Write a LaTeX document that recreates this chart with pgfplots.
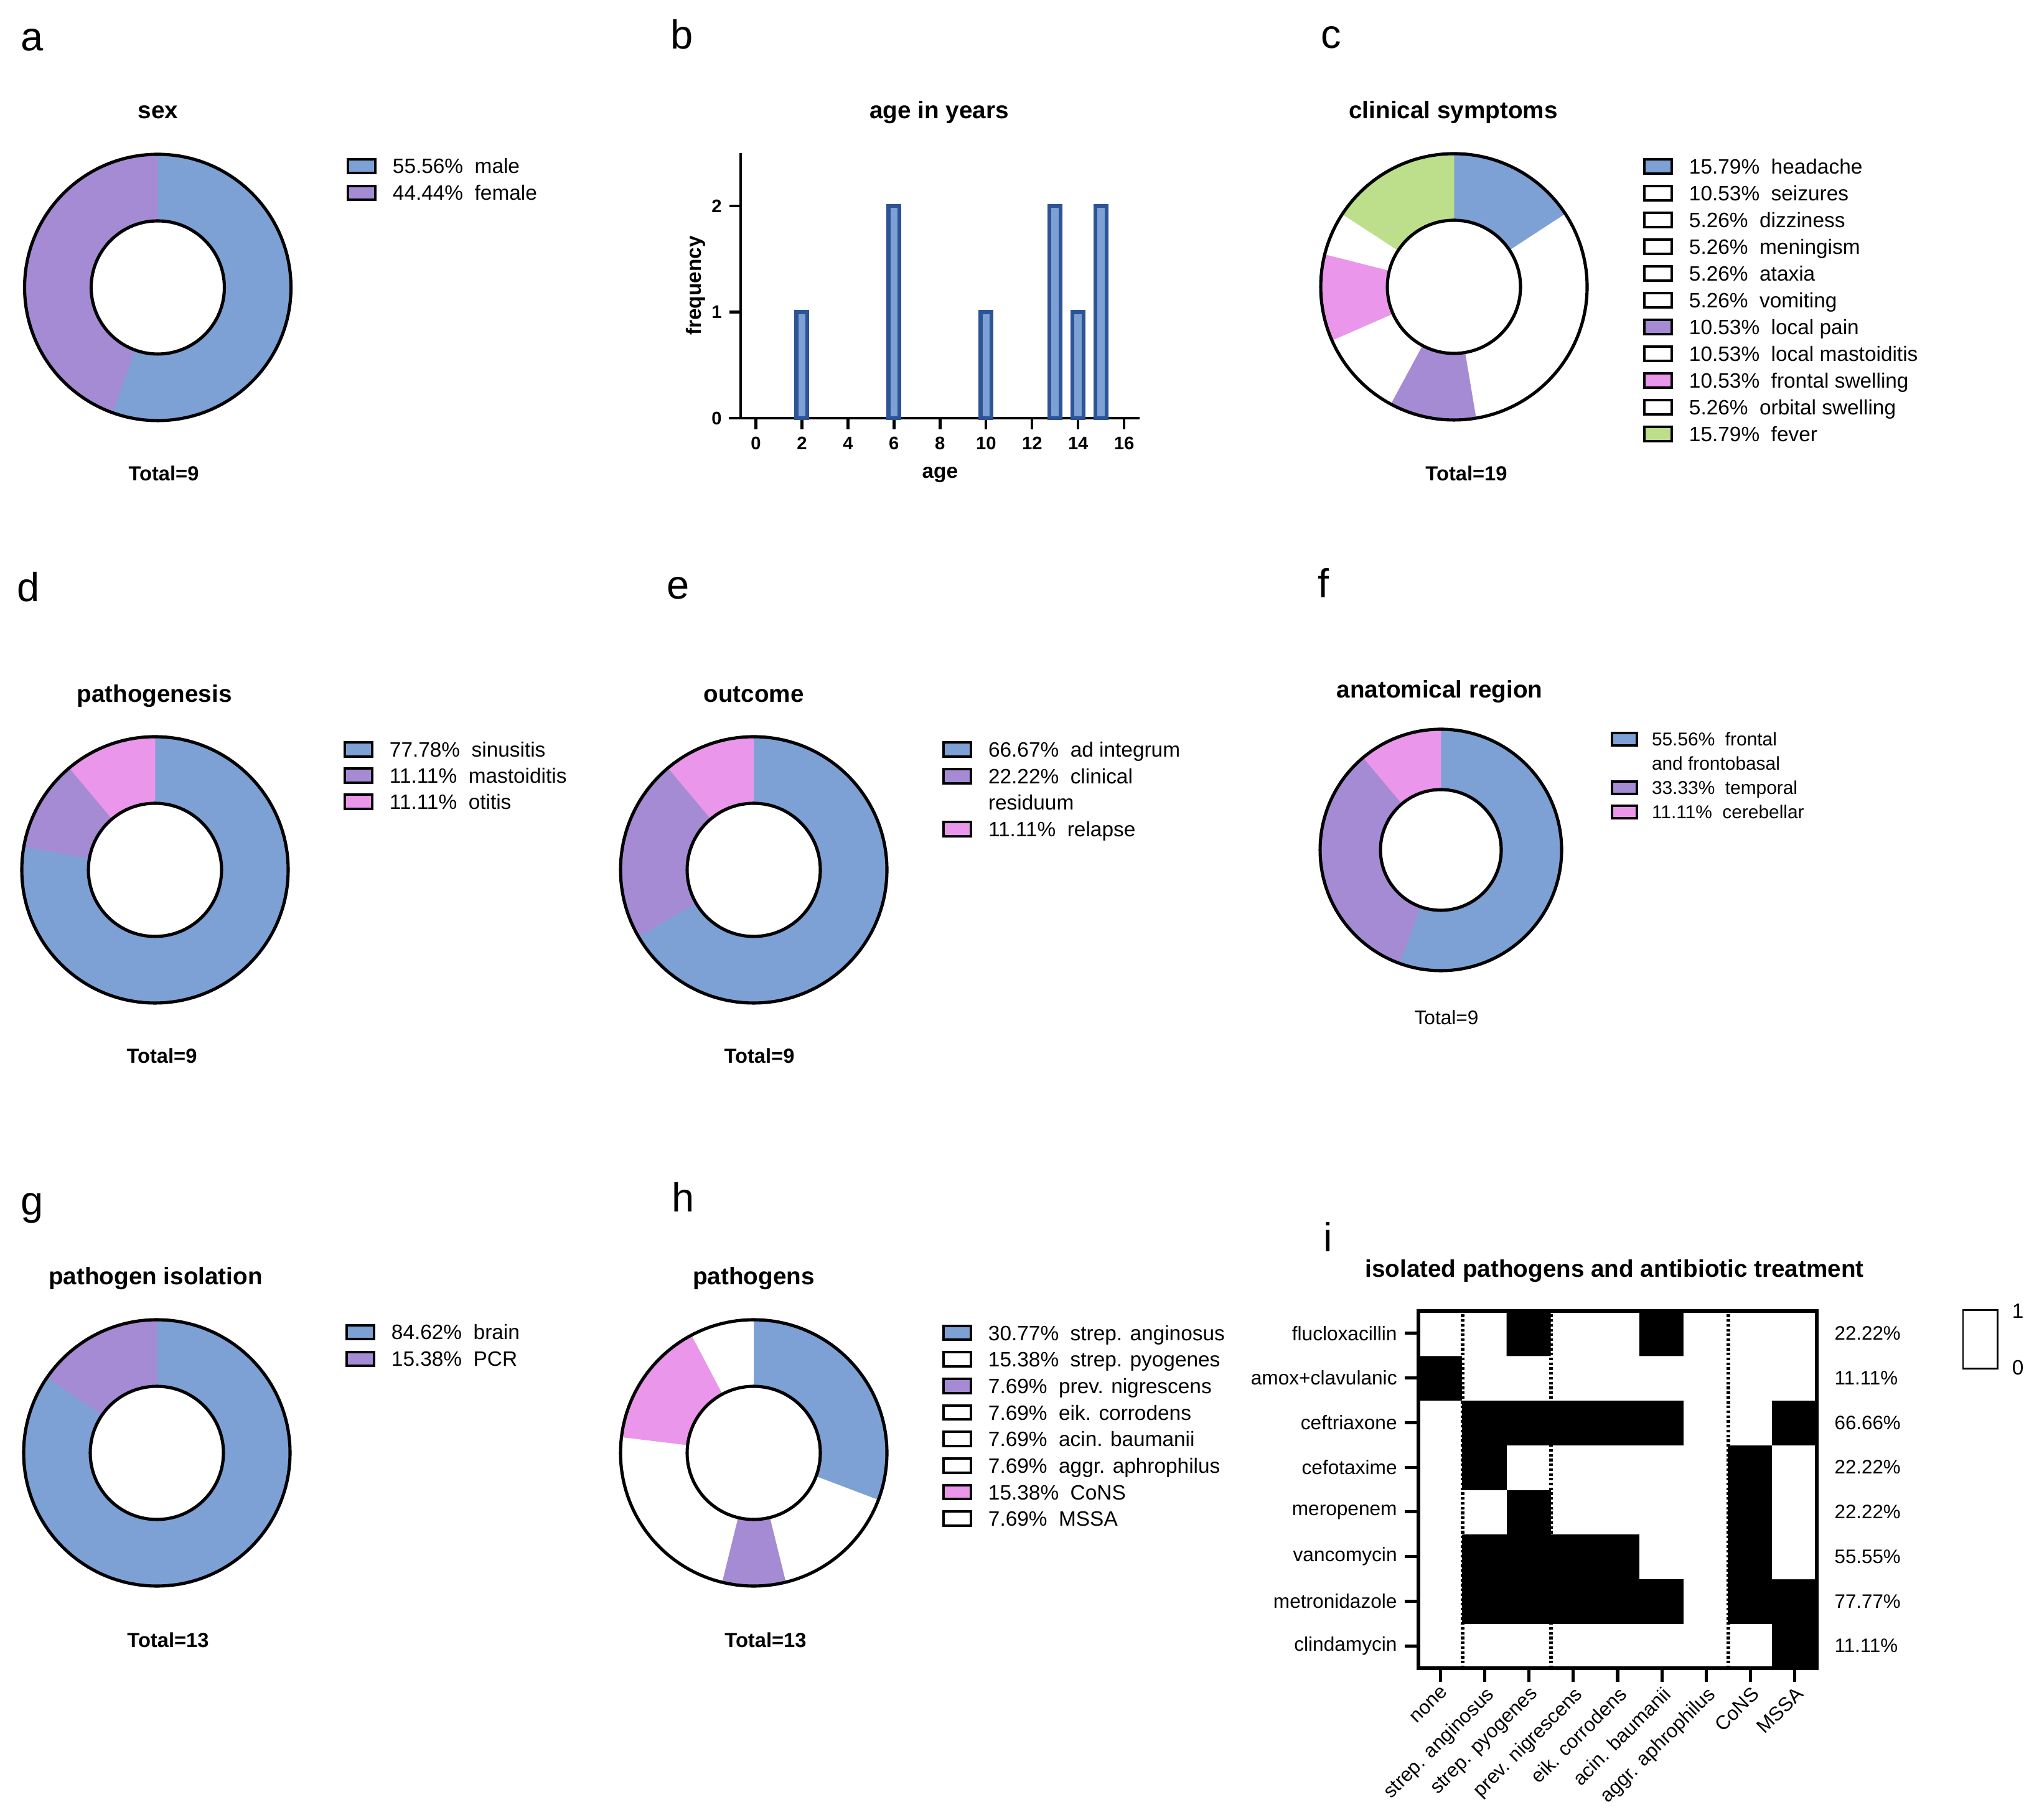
\documentclass[border=0pt]{standalone}
\usepackage{fontspec}
\setmainfont{Liberation Sans}
\usepackage{pgfplots}
\usepackage{pgfplotstable}
\pgfplotsset{compat=1.18}

\definecolor{blueP}{HTML}{7DA1D4}
\definecolor{purpP}{HTML}{A58BD3}
\definecolor{pinkP}{HTML}{EA96EA}
\definecolor{greenP}{HTML}{BDDF8B}
\definecolor{barEdge}{HTML}{2C5496}

% ---------------- data ----------------
\pgfplotstableread{
pct col
55.56 blueP
44.44 purpP
}\tabA
\pgfplotstableread{
age freq
2 1
6 2
10 1
13 2
14 1
15 2
}\tabAge
\pgfplotstableread{
pct col
15.79 blueP
10.53 white
5.26 white
5.26 white
5.26 white
5.26 white
10.53 purpP
10.53 white
10.53 pinkP
5.26 white
15.79 greenP
}\tabC
\pgfplotstableread{
pct col
77.78 blueP
11.11 purpP
11.11 pinkP
}\tabD
\pgfplotstableread{
pct col
66.67 blueP
22.22 purpP
11.11 pinkP
}\tabE
\pgfplotstableread{
pct col
55.56 blueP
33.33 purpP
11.11 pinkP
}\tabF
\pgfplotstableread{
pct col
84.62 blueP
15.38 purpP
}\tabG
\pgfplotstableread{
pct col
30.77 blueP
15.38 white
7.69 purpP
7.69 white
7.69 white
7.69 white
15.38 pinkP
7.69 white
}\tabH
\pgfplotstableread{
x y c
0 0 0
1 0 0
2 0 0
3 0 0
4 0 0
5 0 0
6 0 0
7 0 0
8 0 1
0 1 0
1 1 1
2 1 1
3 1 1
4 1 1
5 1 1
6 1 0
7 1 1
8 1 1
0 2 0
1 2 1
2 2 1
3 2 1
4 2 1
5 2 0
6 2 0
7 2 1
8 2 0
0 3 0
1 3 0
2 3 1
3 3 0
4 3 0
5 3 0
6 3 0
7 3 1
8 3 0
0 4 0
1 4 1
2 4 0
3 4 0
4 4 0
5 4 0
6 4 0
7 4 1
8 4 0
0 5 0
1 5 1
2 5 1
3 5 1
4 5 1
5 5 1
6 5 0
7 5 0
8 5 1
0 6 1
1 6 0
2 6 0
3 6 0
4 6 0
5 6 0
6 6 0
7 6 0
8 6 0
0 7 0
1 7 0
2 7 1
3 7 0
4 7 0
5 7 1
6 7 0
7 7 0
8 7 0
}\heat

% ---------------- donut drawing (inside an axis with x=y=1cm) ----------------
\newcommand\donut[3]{%
  \pgfplotstablegetrowsof{#1}%
  \pgfmathtruncatemacro\nlast{\pgfplotsretval-1}%
  \def\cumsum{0}%
  \pgfmathsetmacro\dr{#2-#3}%
  \pgfplotsforeachungrouped \k in {0,...,\nlast}{%
    \pgfplotstablegetelem{\k}{pct}\of{#1}\let\slpct\pgfplotsretval
    \pgfplotstablegetelem{\k}{col}\of{#1}\let\slcol\pgfplotsretval
    \pgfmathsetmacro\sa{90-3.6*\cumsum}%
    \pgfmathsetmacro\ea{90-3.6*(\cumsum+\slpct)}%
    \pgfmathsetmacro\cumsum{\cumsum+\slpct}%
    \edef\tmp{\noexpand\fill[\slcol, draw=\slcol, line width=0.2pt] (axis cs:0,0) ++(\sa:#2cm) arc[start angle=\sa, end angle=\ea, radius=#2cm] -- ++(\ea:-\dr cm) arc[start angle=\ea, end angle=\sa, radius=#3cm] -- cycle;}%
    \tmp
  }%
  \draw[line width=1.45pt] (axis cs:0,0) circle[radius=#2cm];
  \draw[line width=1.45pt] (axis cs:0,0) circle[radius=#3cm];
}

\pgfplotsset{
  donut/.style={x=1cm, y=1cm, xmin=-2.2, xmax=2.2, ymin=-2.2, ymax=2.2,
    hide axis, clip=false, anchor=center,
    legend cell align=left,
    legend image code/.code={\draw[##1, draw=black, line width=1.15pt] (0.021cm,-0.078cm) rectangle (0.459cm,0.148cm);},
    legend style={draw=none, fill=none, inner sep=0pt, outer sep=0pt, anchor=north west,
      column sep=0.26cm, row sep=0pt,
      nodes={inner sep=0pt, outer sep=0pt, text height=0.30cm, text depth=0.13cm,
        font=\fontsize{9.5}{11}\selectfont}}},
}

\newcommand\plabel[2]{\node[anchor=base west, inner sep=0pt, font=\fontsize{18.5}{20}\selectfont] at (#1) {#2};}
\newcommand\ptitle[2]{\node[anchor=base, inner sep=0pt, font=\bfseries\fontsize{11}{13}\selectfont] at (#1) {#2};}
\newcommand\ptotal[2]{\node[anchor=base, inner sep=0pt, font=\bfseries\fontsize{9.3}{11}\selectfont] at (#1) {#2};}

\begin{document}
\begin{tikzpicture}
\useasboundingbox (0,0) rectangle (32.6,29.24);

% panel letters
\plabel{0.33,28.42}{a}
\plabel{10.77,28.45}{b}
\plabel{21.22,28.46}{c}
\plabel{0.27,19.57}{d}
\plabel{10.71,19.61}{e}
\plabel{21.17,19.63}{f}
\plabel{0.33,9.71}{g}
\plabel{10.79,9.76}{h}
\plabel{21.26,9.12}{i}

% titles
\ptitle{2.54,27.33}{sex}
\ptitle{15.09,27.33}{age in years}
\ptitle{23.35,27.33}{clinical symptoms}
\ptitle{2.48,17.95}{pathogenesis}
\ptitle{12.11,17.95}{outcome}
\ptitle{23.13,18.02}{anatomical region}
\ptitle{2.50,8.59}{pathogen isolation}
\ptitle{12.11,8.59}{pathogens}
\ptitle{25.94,8.71}{isolated pathogens and antibiotic treatment}

% totals
\ptotal{2.63,21.51}{Total=9}
\ptotal{23.56,21.51}{Total=19}
\ptotal{2.60,12.15}{Total=9}
\ptotal{12.20,12.15}{Total=9}
\node[anchor=base, inner sep=0pt, font=\fontsize{9}{11}\selectfont] at (23.24,12.77) {Total=9};
\ptotal{2.70,2.77}{Total=13}
\ptotal{12.30,2.77}{Total=13}

% ---- a: sex ----
\begin{axis}[donut, at={(2.535cm,24.62cm)},
  legend style={at={(axis cs:3.036,2.13)}}]
\donut{\tabA}{2.14}{1.07}
\addlegendimage{fill=blueP}\addlegendentry{55.56\%\ \ male}
\addlegendimage{fill=purpP}\addlegendentry{44.44\%\ \ female}
\end{axis}

% ---- b: age histogram ----
\begin{axis}[
  at={(11.90cm,22.52cm)}, anchor=south west, scale only axis,
  width=6.406cm, height=4.26cm,
  xmin=-0.66, xmax=16.66, ymin=0, ymax=2.5,
  axis lines=left, axis line style={-, line width=1.25pt},
  x axis line style={shorten <=-0.19cm},
  xtick={0,2,...,16}, ytick={0,1,2},
  tick align=outside, tick pos=left, major tick length=0.18cm,
  every tick/.style={black, line width=1.25pt},
  ticklabel style={font=\bfseries\fontsize{8.3}{10}\selectfont},
  /pgf/number format/assume math mode=true,
  xlabel={age}, ylabel={frequency},
  every axis x label/.style={at={(axis description cs:0.5,-0.2136)}, anchor=center,
    font=\bfseries\fontsize{9.5}{11}\selectfont},
  every axis y label/.style={at={(axis description cs:-0.1124,0.5)}, anchor=center, rotate=90,
    font=\bfseries\fontsize{9.5}{11}\selectfont},
  ybar, bar width=0.177cm, clip=false]
\addplot[fill=blueP, draw=barEdge, line width=1.75pt] table[x=age, y=freq]{\tabAge};
\end{axis}

% ---- c: clinical symptoms ----
\begin{axis}[donut, at={(23.36cm,24.63cm)},
  legend style={at={(axis cs:3.041,2.114)}}]
\donut{\tabC}{2.14}{1.07}
\addlegendimage{fill=blueP}\addlegendentry{15.79\%\ \ headache}
\addlegendimage{fill=white}\addlegendentry{10.53\%\ \ seizures}
\addlegendimage{fill=white}\addlegendentry{5.26\%\ \ dizziness}
\addlegendimage{fill=white}\addlegendentry{5.26\%\ \ meningism}
\addlegendimage{fill=white}\addlegendentry{5.26\%\ \ ataxia}
\addlegendimage{fill=white}\addlegendentry{5.26\%\ \ vomiting}
\addlegendimage{fill=purpP}\addlegendentry{10.53\%\ \ local pain}
\addlegendimage{fill=white}\addlegendentry{10.53\%\ \ local mastoiditis}
\addlegendimage{fill=pinkP}\addlegendentry{10.53\%\ \ frontal swelling}
\addlegendimage{fill=white}\addlegendentry{5.26\%\ \ orbital swelling}
\addlegendimage{fill=greenP}\addlegendentry{15.79\%\ \ fever}
\end{axis}

% ---- d: pathogenesis ----
\begin{axis}[donut, at={(2.49cm,15.26cm)},
  legend style={at={(axis cs:3.031,2.11)}, nodes={text depth=0.12cm}}]
\donut{\tabD}{2.14}{1.07}
\addlegendimage{fill=blueP}\addlegendentry{77.78\%\ \ sinusitis}
\addlegendimage{fill=purpP}\addlegendentry{11.11\%\ \ mastoiditis}
\addlegendimage{fill=pinkP}\addlegendentry{11.11\%\ \ otitis}
\end{axis}

% ---- e: outcome ----
\begin{axis}[donut, at={(12.11cm,15.26cm)},
  legend style={at={(axis cs:3.031,2.11)}, nodes={text depth=0.125cm}}]
\donut{\tabE}{2.14}{1.07}
\addlegendimage{fill=blueP}\addlegendentry{66.67\%\ \ ad integrum}
\addlegendimage{fill=purpP}\addlegendentry{22.22\%\ \ clinical}
\addlegendimage{empty legend}\addlegendentry{residuum}
\addlegendimage{fill=pinkP}\addlegendentry{11.11\%\ \ relapse}
\end{axis}

% ---- f: anatomical region ----
\begin{axis}[donut, at={(23.15cm,15.58cm)},
  legend image code/.code={\draw[#1, draw=black, line width=1.1pt] (0.019cm,-0.064cm) rectangle (0.421cm,0.128cm);},
  legend style={at={(axis cs:2.729,1.943)}, column sep=0.22cm,
    nodes={text height=0.27cm, text depth=0.12cm, font=\fontsize{8.5}{10}\selectfont}}]
\donut{\tabF}{1.94}{0.97}
\addlegendimage{fill=blueP}\addlegendentry{55.56\%\ \ frontal}
\addlegendimage{empty legend}\addlegendentry{and frontobasal}
\addlegendimage{fill=purpP}\addlegendentry{33.33\%\ \ temporal}
\addlegendimage{fill=pinkP}\addlegendentry{11.11\%\ \ cerebellar}
\end{axis}

% ---- g: pathogen isolation ----
\begin{axis}[donut, at={(2.52cm,5.89cm)},
  legend style={at={(axis cs:3.031,2.12)}}]
\donut{\tabG}{2.14}{1.07}
\addlegendimage{fill=blueP}\addlegendentry{84.62\%\ \ brain}
\addlegendimage{fill=purpP}\addlegendentry{15.38\%\ \ PCR}
\end{axis}

% ---- h: pathogens ----
\begin{axis}[donut, at={(12.11cm,5.89cm)},
  legend style={at={(axis cs:3.031,2.11)}, nodes={text depth=0.127cm}}]
\donut{\tabH}{2.14}{1.07}
\addlegendimage{fill=blueP}\addlegendentry{30.77\%\ \ strep. anginosus}
\addlegendimage{fill=white}\addlegendentry{15.38\%\ \ strep. pyogenes}
\addlegendimage{fill=purpP}\addlegendentry{7.69\%\ \ prev. nigrescens}
\addlegendimage{fill=white}\addlegendentry{7.69\%\ \ eik. corrodens}
\addlegendimage{fill=white}\addlegendentry{7.69\%\ \ acin. baumanii}
\addlegendimage{fill=white}\addlegendentry{7.69\%\ \ aggr. aphrophilus}
\addlegendimage{fill=pinkP}\addlegendentry{15.38\%\ \ CoNS}
\addlegendimage{fill=white}\addlegendentry{7.69\%\ \ MSSA}
\end{axis}

% ---- i: heatmap ----
\begin{axis}[
  at={(22.79cm,2.43cm)}, anchor=south west, scale only axis,
  width=6.40cm, height=5.74cm,
  xmin=-0.5, xmax=8.5, ymin=-0.5, ymax=7.5,
  axis on top, axis line style={line width=1.55pt},
  colormap={bw}{color=(white) color=(black)},
  point meta min=0, point meta max=1,
  xtick={0,...,8}, ytick={0,...,7},
  xticklabels={none, strep. anginosus, strep. pyogenes, prev. nigrescens, eik. corrodens, acin. baumanii, aggr. aphrophilus, CoNS, MSSA},
  yticklabels={clindamycin, metronidazole, vancomycin, meropenem, cefotaxime, ceftriaxone, amox+clavulanic, flucloxacillin},
  tick align=outside, tick pos=left, major tick length=0.22cm,
  every tick/.style={black, line width=1.45pt},
  ticklabel style={font=\fontsize{9}{10}\selectfont},
  xticklabel style={rotate=45, anchor=north east, inner sep=1pt},
  clip=false]
\addplot[matrix plot*, mesh/cols=9, point meta=explicit] table[x=x, y=y, meta=c]{\heat};
\addplot[black, line width=1.7pt, dash pattern=on 1.2pt off 1.0pt] coordinates {(0.5,-0.5) (0.5,7.5)};
\addplot[black, line width=1.7pt, dash pattern=on 1.2pt off 1.0pt] coordinates {(2.5,-0.5) (2.5,7.5)};
\addplot[black, line width=1.7pt, dash pattern=on 1.2pt off 1.0pt] coordinates {(6.5,-0.5) (6.5,7.5)};
\node[anchor=west, inner sep=0pt, xshift=0.28cm, font=\fontsize{8.9}{10}\selectfont] at (axis cs:8.5,7) {22.22\%};
\node[anchor=west, inner sep=0pt, xshift=0.28cm, font=\fontsize{8.9}{10}\selectfont] at (axis cs:8.5,6) {11.11\%};
\node[anchor=west, inner sep=0pt, xshift=0.28cm, font=\fontsize{8.9}{10}\selectfont] at (axis cs:8.5,5) {66.66\%};
\node[anchor=west, inner sep=0pt, xshift=0.28cm, font=\fontsize{8.9}{10}\selectfont] at (axis cs:8.5,4) {22.22\%};
\node[anchor=west, inner sep=0pt, xshift=0.28cm, font=\fontsize{8.9}{10}\selectfont] at (axis cs:8.5,3) {22.22\%};
\node[anchor=west, inner sep=0pt, xshift=0.28cm, font=\fontsize{8.9}{10}\selectfont] at (axis cs:8.5,2) {55.55\%};
\node[anchor=west, inner sep=0pt, xshift=0.28cm, font=\fontsize{8.9}{10}\selectfont] at (axis cs:8.5,1) {77.77\%};
\node[anchor=west, inner sep=0pt, xshift=0.28cm, font=\fontsize{8.9}{10}\selectfont] at (axis cs:8.5,0) {11.11\%};
\end{axis}

% ---- i: colour scale box ----
\begin{axis}[
  at={(31.55cm,7.26cm)}, anchor=south west, scale only axis,
  width=0.53cm, height=0.91cm,
  xmin=0, xmax=1, ymin=0, ymax=1,
  axis line style={line width=1.45pt},
  xtick=\empty, ytick={0,1}, yticklabel pos=right,
  major tick length=0pt,
  /pgf/number format/assume math mode=true,
  yticklabel style={font=\fontsize{9.5}{11}\selectfont, anchor=west, inner sep=0pt, xshift=0.24cm}]
\addplot[fill=white, draw=none] coordinates {(0,0) (1,0) (1,1) (0,1) (0,0)};
\end{axis}
\end{tikzpicture}
\end{document}
